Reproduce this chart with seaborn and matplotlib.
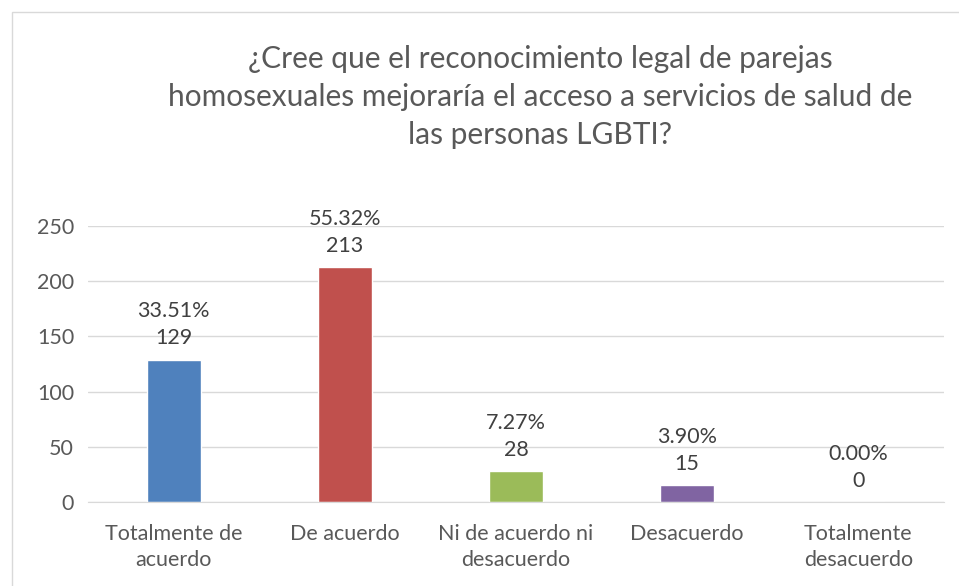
import matplotlib
matplotlib.use("Agg")
import matplotlib.pyplot as plt
import seaborn as sns
import pandas as pd
from matplotlib.patches import Rectangle

categorias = ["Totalmente de\nacuerdo", "De acuerdo", "Ni de acuerdo ni\ndesacuerdo",
              "Desacuerdo", "Totalmente\ndesacuerdo"]
respuestas = [129, 213, 28, 15, 0]
porcentajes = ["33.51%", "55.32%", "7.27%", "3.90%", "0.00%"]
colores = ["#4F81BD", "#C0504D", "#9BBB59", "#8064A2", "#4BACC6"]
titulo = "¿Cree que el reconocimiento legal de parejas\nhomosexuales mejoraría el acceso a servicios de salud de\nlas personas LGBTI?"

sns.set_style("white")
plt.rcParams['font.family'] = ['Lato', 'DejaVu Sans']
gris = "#595959"

df = pd.DataFrame({"cat": categorias, "n": respuestas})

fig = plt.figure(figsize=(9.59, 5.86), dpi=100)
ax = fig.add_axes([88/959, 1-502/586, (944-88)/959, (502-226)/586])

sns.barplot(data=df, x="cat", y="n", hue="cat", palette=colores, legend=False,
            width=0.315, ax=ax, saturation=1)

ax.set_ylim(0, 250)
ax.set_xlim(-0.5, 4.5)
ax.set_yticks(range(0, 251, 50))
ax.yaxis.grid(True, color="#D9D9D9", lw=1)
ax.set_axisbelow(True)
for s in ["top", "right", "left"]:
    ax.spines[s].set_visible(False)
ax.spines["bottom"].set_color("#D9D9D9")
ax.set_xlabel("")
ax.set_ylabel("")
ax.tick_params(axis="both", labelsize=15.5, colors=gris, length=0)
ax.tick_params(axis="y", pad=10)
ax.tick_params(axis="x", pad=16)
ax.set_xticks([i - 0.5 for i in range(6)], minor=True)
ax.tick_params(axis="x", which="minor", length=7, color="#D9D9D9", width=1)
for lbl in ax.get_xticklabels():
    lbl.set_linespacing(1.35)

for i, (v, p) in enumerate(zip(respuestas, porcentajes)):
    ax.annotate(f"{p}\n{v}", (i, v), xytext=(0, 8), textcoords="offset points",
                ha="center", va="bottom", fontsize=15.5, color="#404040", linespacing=1.45)

fig.text(540/959, 1-97/586, titulo, ha="center", va="center", fontsize=21.5,
         color=gris, linespacing=1.45)

fig.patches.append(Rectangle((12/959, -0.05), 1.2, 1-12/586+0.05, transform=fig.transFigure,
                             fill=False, edgecolor="#D9D9D9", lw=1))

fig.savefig("out.png", dpi=100)
